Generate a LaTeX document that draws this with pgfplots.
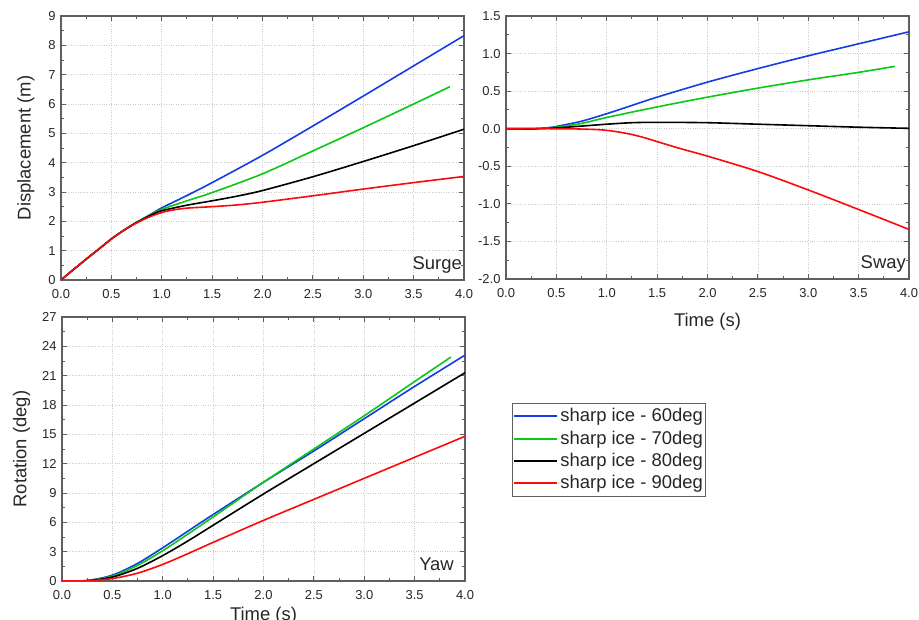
\documentclass[border=0pt]{standalone}
\usepackage{pgfplots}
\pgfplotsset{compat=1.18}
\usepackage{fontspec}
\setmainfont{Liberation Sans}
\definecolor{cblue}{RGB}{20,60,230}
\definecolor{cgreen}{RGB}{10,200,20}
\definecolor{cred}{RGB}{250,10,10}
\definecolor{frame}{RGB}{95,95,95}
\tikzset{panel/.style={anchor=base east, font=\fontsize{18.5}{20}\selectfont, text=black!85, inner sep=0pt}}
\pgfplotsset{
  myax/.style={
    scale only axis, width=403bp,
    xmin=0, xmax=4, xtick={0,0.5,...,4}, minor x tick num=1,
    minor y tick num=1,
    tick align=inside, major tick length=5bp, minor tick length=3bp,
    axis line style={frame, line width=1.1bp},
    every tick/.style={frame, line width=0.9bp},
    grid=major, major grid style={gray!40, dotted, line width=0.6bp},
    xticklabel style={/pgf/number format/.cd, fixed, fixed zerofill, precision=1, /tikz/.cd, yshift=-6bp},
    yticklabel style={xshift=-2bp},
    /pgf/number format/assume math mode=true,
    tick label style={font=\fontsize{13}{15}\selectfont, text=black!85},
    label style={font=\fontsize{18.5}{20}\selectfont, text=black!85},
    xtick pos=both, ytick pos=both,
    xticklabel pos=left, yticklabel pos=left,
    every axis plot/.append style={line width=1.6bp, no marks, smooth},
    clip=true,
  }
}
\begin{document}
\begin{tikzpicture}
\useasboundingbox (0bp,0bp) rectangle (919bp,620bp);
% Surge
\begin{axis}[myax, at={(61bp,340bp)}, anchor=south west, height=264bp,
  ymin=0, ymax=9, ytick={0,1,...,9},
  ylabel={Displacement (m)}, ylabel style={yshift=7bp}]
\addplot[cblue] coordinates {(0,0)(0.1,0.29)(0.2,0.57)(0.3,0.85)(0.4,1.12)(0.5,1.4)(0.6,1.64)(0.7,1.86)(0.8,2.06)(0.9,2.26)(1.0,2.46)(1.25,2.88)(1.5,3.32)(2,4.25)(2.5,5.25)(3,6.27)(3.5,7.3)(4,8.33)};
\addplot[cgreen] coordinates {(0,0)(0.1,0.29)(0.2,0.57)(0.3,0.85)(0.4,1.12)(0.5,1.4)(0.6,1.64)(0.7,1.86)(0.8,2.06)(0.9,2.24)(1.0,2.41)(1.25,2.7)(1.5,2.98)(2,3.62)(2.5,4.4)(3,5.19)(3.5,6.0)(3.86,6.59)};
\addplot[black] coordinates {(0,0)(0.1,0.29)(0.2,0.57)(0.3,0.85)(0.4,1.12)(0.5,1.4)(0.6,1.64)(0.7,1.86)(0.8,2.05)(0.9,2.22)(1.0,2.36)(1.25,2.55)(1.5,2.7)(1.75,2.86)(2,3.05)(2.5,3.52)(3,4.04)(3.5,4.58)(4,5.14)};
\addplot[cred] coordinates {(0,0)(0.1,0.29)(0.2,0.57)(0.3,0.85)(0.4,1.12)(0.5,1.4)(0.6,1.64)(0.7,1.85)(0.8,2.03)(0.9,2.18)(1.0,2.3)(1.1,2.38)(1.25,2.45)(1.5,2.5)(1.75,2.56)(2,2.65)(2.5,2.87)(3,3.1)(3.5,3.32)(4,3.53)};
\node[panel] at ([xshift=-2bp,yshift=10bp]rel axis cs:1,0) {Surge};
\end{axis}
% Sway
\begin{axis}[myax, at={(506bp,341bp)}, anchor=south west, height=263bp,
  ymin=-2, ymax=1.5, ytick={-2,-1.5,...,1.5},
  yticklabel style={/pgf/number format/.cd, fixed, fixed zerofill, precision=1},
  xlabel={Time (s)}, xlabel style={yshift=-9bp}]
\addplot[cblue] coordinates {(0,0)(0.25,0)(0.4,0.01)(0.5,0.03)(0.75,0.1)(1,0.2)(1.25,0.31)(1.5,0.42)(2,0.62)(2.5,0.8)(3,0.97)(3.5,1.13)(4,1.29)};
\addplot[cgreen] coordinates {(0,0)(0.25,0)(0.4,0.01)(0.5,0.02)(0.75,0.07)(1,0.15)(1.5,0.29)(2,0.42)(2.5,0.54)(3,0.65)(3.5,0.75)(3.86,0.83)};
\addplot[black] coordinates {(0,0)(0.3,0)(0.5,0.01)(0.75,0.035)(1,0.06)(1.25,0.08)(1.5,0.085)(2,0.08)(2.5,0.06)(3,0.04)(3.5,0.02)(4,0.005)};
\addplot[cred] coordinates {(0,0)(0.5,0)(0.7,-0.003)(0.9,-0.012)(1,-0.022)(1.1,-0.04)(1.25,-0.077)(1.4,-0.13)(1.5,-0.172)(1.75,-0.272)(2,-0.365)(2.5,-0.57)(3,-0.815)(3.5,-1.075)(4,-1.34)};
\node[panel] at ([xshift=-3bp,yshift=10bp]rel axis cs:1,0) {Sway};
\end{axis}
% Yaw
\begin{axis}[myax, at={(62bp,39bp)}, anchor=south west, height=264bp,
  ymin=0, ymax=27, ytick={0,3,...,27},
  ylabel={Rotation (deg)}, ylabel style={yshift=5bp},
  xlabel={Time (s)}, xlabel style={yshift=-1bp}]
\addplot[cblue] coordinates {(0,0)(0.25,0.05)(0.5,0.6)(0.75,1.8)(1,3.4)(1.25,5.1)(1.5,6.8)(2,10.1)(2.5,13.3)(3,16.6)(3.5,19.9)(4,23.1)};
\addplot[cgreen] coordinates {(0,0)(0.25,0.04)(0.5,0.5)(0.75,1.6)(1,3.1)(1.25,4.8)(1.5,6.55)(2,10.1)(2.5,13.5)(3,16.9)(3.5,20.4)(3.86,22.9)};
\addplot[black] coordinates {(0,0)(0.25,0.03)(0.5,0.4)(0.75,1.3)(1,2.6)(1.25,4.1)(1.5,5.7)(2,8.9)(2.5,12.0)(3,15.1)(3.5,18.2)(4,21.3)};
\addplot[cred] coordinates {(0,0)(0.25,0.02)(0.5,0.25)(0.75,0.8)(1,1.7)(1.25,2.8)(1.5,3.95)(2,6.2)(2.5,8.35)(3,10.5)(3.5,12.65)(4,14.8)};
\node[panel] at ([xshift=-11bp,yshift=11bp]rel axis cs:1,0) {Yaw};
\end{axis}
% Legend
\begin{axis}[at={(512bp,123bp)}, anchor=south west, scale only axis, width=198bp, height=95bp,
  hide axis, xmin=0, xmax=1, ymin=0, ymax=1,
  legend style={at={(0,0)}, anchor=south west, draw=frame, line width=0.9bp,
    font=\fontsize{18.5}{20}\selectfont, text=black!85,
    inner xsep=1bp, inner ysep=1.5bp, row sep=0pt, legend cell align=left,
    nodes={text height=14bp, text depth=4bp, inner ysep=2.2bp, inner xsep=2bp}},
  legend image code/.code={\draw[#1, line width=2bp] (0bp,0.4bp) -- (43bp,0.4bp);}]
\addlegendimage{cblue}\addlegendentry{sharp ice - 60deg}
\addlegendimage{cgreen}\addlegendentry{sharp ice - 70deg}
\addlegendimage{black}\addlegendentry{sharp ice - 80deg}
\addlegendimage{cred}\addlegendentry{sharp ice - 90deg}
\end{axis}
\end{tikzpicture}
\end{document}
